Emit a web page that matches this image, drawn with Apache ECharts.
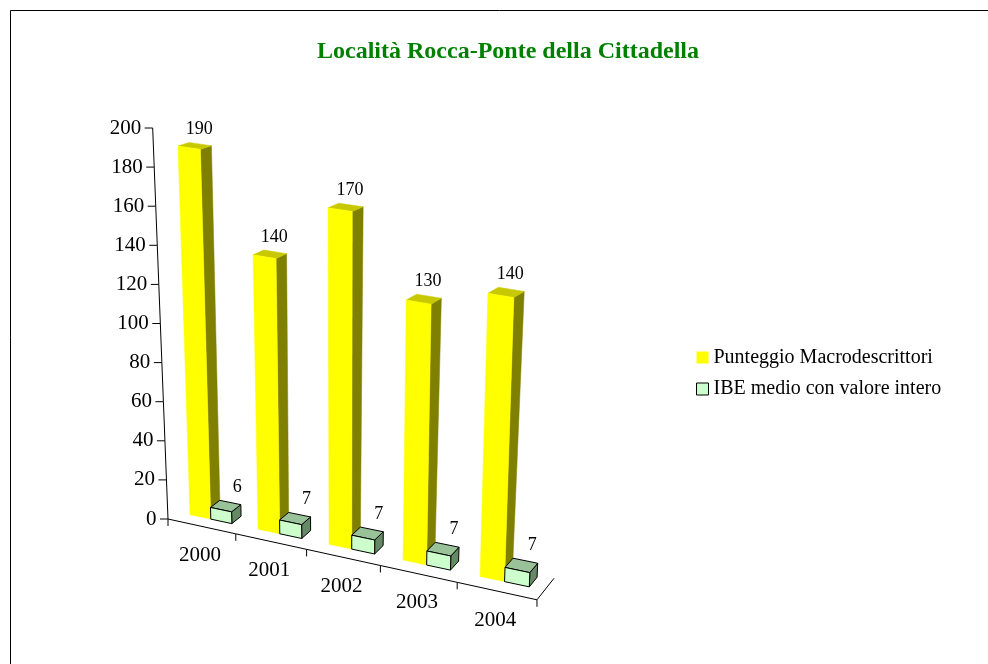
<!DOCTYPE html>
<html><head><meta charset="utf-8">
<script src="https://cdn.jsdelivr.net/npm/echarts@6/dist/echarts.min.js"></script>
<style>html,body{margin:0;padding:0;background:#fff;}#main{width:988px;height:664px;}</style>
</head><body><div id="main"></div>
<script>
const categories = ['2000', '2001', '2002', '2003', '2004'];
const macroValues = [190, 140, 170, 130, 140];
const ibeValues = [6, 7, 7, 7, 7];
const yTicks = [0, 20, 40, 60, 80, 100, 120, 140, 160, 180, 200];
const seriesNames = ['Punteggio Macrodescrittori', 'IBE medio con valore intero'];
const titleText = 'Località Rocca-Ponte della Cittadella';

const FONT = '"Liberation Serif","Times New Roman",serif';

// pseudo-perspective warp parameters (style only)
const P = {
  curve: 0.000341, slope: 0.219, hGrow: 0.00015,
  lean: 0.000194, leanRef: 202, span: 370, hRef: 371,
  dLF: [21, -15.5], dLT: [24.4, -7.8], dRF: [17, -21.5], dRT: [25.2, -11.7],
  zFront: 0.45, zBack: 0.9
};

function makeWarp(api) {
  const band = api.size([1, 0])[0];
  const c0 = api.coord([0, 0]);
  const ox = c0[0] - band / 2, oy = c0[1];
  const W = function (u, h, z) {
    const d = u - ox;
    const sx0 = d + P.curve * d * d;
    const t = Math.max(0, Math.min(1, sx0 / P.span));
    const hh = h / P.hRef;
    const dx = (1 - t) * (P.dLF[0] + (P.dLT[0] - P.dLF[0]) * hh) + t * (P.dRF[0] + (P.dRT[0] - P.dRF[0]) * hh);
    const dy = (1 - t) * (P.dLF[1] + (P.dLT[1] - P.dLF[1]) * hh) + t * (P.dRF[1] + (P.dRT[1] - P.dRF[1]) * hh);
    const hs = h * (1 + P.hGrow * sx0);
    return [ox + sx0 + P.lean * (sx0 - P.leanRef) * h + z * dx,
            oy + P.slope * sx0 - hs + z * dy];
  };
  W.ox = ox; W.oy = oy; W.band = band;
  return W;
}

function poly(pts, fill, stroke) {
  return { type: 'polygon', shape: { points: pts },
    style: { fill: fill, stroke: stroke || fill, lineWidth: stroke ? 1 : 0.5 } };
}

function barRender(kind) {
  return function (params, api) {
    const W = makeWarp(api);
    const i = api.value(0), v = api.value(1);
    const c = api.coord([i, 0]);
    const h = c[1] - api.coord([i, v])[1];
    const bw = W.band * 0.31;
    const u1 = kind === 0 ? c[0] - bw : c[0];
    const u2 = u1 + bw;
    const zf = P.zFront, zb = P.zBack;
    const fbl = W(u1, 0, zf), fbr = W(u2, 0, zf), ftr = W(u2, h, zf), ftl = W(u1, h, zf);
    const bbr = W(u2, 0, zb), btr = W(u2, h, zb), btl = W(u1, h, zb);
    const col = kind === 0
      ? { front: '#FFFF00', top: '#C8C800', side: '#808000', stroke: null }
      : { front: '#CCFFCC', top: '#99C299', side: '#668A66', stroke: '#000' };
    const off = kind === 0 ? [-1, -15] : [7, -15];
    const lx = (btl[0] + btr[0]) / 2 + off[0], ly = (btl[1] + btr[1]) / 2 + off[1];
    return { type: 'group', children: [
      poly([fbr, bbr, btr, ftr], col.side, col.stroke),
      poly([ftl, ftr, btr, btl], col.top, col.stroke),
      poly([fbl, fbr, ftr, ftl], col.front, col.stroke),
      { type: 'text', x: lx, y: ly, style: { text: String(v), fill: '#000', font: '18px ' + FONT, align: 'center', verticalAlign: 'middle' } }
    ] };
  };
}

function yAxisRender(params, api) {
  const W = makeWarp(api);
  const idx = params.dataIndex;
  const v = api.value(1);
  const h = W.oy - api.coord([0, v])[1];
  const p = W(W.ox, h, 0);
  const ch = [
    { type: 'line', shape: { x1: p[0] - 8, y1: p[1], x2: p[0], y2: p[1] }, style: { stroke: '#000', lineWidth: 1 } },
    { type: 'text', x: p[0] - 11.5, y: p[1], style: { text: String(v), fill: '#000', font: '21px ' + FONT, align: 'right', verticalAlign: 'middle' } }
  ];
  if (idx < yTicks.length - 1) {
    const h2 = W.oy - api.coord([0, yTicks[idx + 1]])[1];
    const q = W(W.ox, h2, 0);
    ch.push({ type: 'line', shape: { x1: p[0], y1: p[1], x2: q[0], y2: q[1] }, style: { stroke: '#000', lineWidth: 1 } });
  }
  return { type: 'group', children: ch };
}

function xAxisRender(params, api) {
  const W = makeWarp(api);
  const i = api.value(0);
  const a = W(W.ox + W.band * i, 0, 0);
  const b = W(W.ox + W.band * (i + 1), 0, 0);
  const m = W(W.ox + W.band * (i + 0.5), 0, 0);
  const ls = { stroke: '#000', lineWidth: 1 };
  const ch = [
    { type: 'line', shape: { x1: a[0], y1: a[1], x2: b[0], y2: b[1] }, style: ls },
    { type: 'line', shape: { x1: a[0], y1: a[1], x2: a[0], y2: a[1] + 7 }, style: ls },
    { type: 'text', x: m[0] - 1.5, y: m[1] + 29, style: { text: categories[i], fill: '#000', font: '21px ' + FONT, align: 'center', verticalAlign: 'middle' } }
  ];
  if (i === categories.length - 1) {
    const e = W(W.ox + W.band * (i + 1), 0, 1);
    ch.push({ type: 'line', shape: { x1: b[0], y1: b[1], x2: b[0], y2: b[1] + 7 }, style: ls });
    ch.push({ type: 'line', shape: { x1: b[0], y1: b[1], x2: e[0], y2: e[1] }, style: ls });
  }
  return { type: 'group', children: ch };
}

const chart = echarts.init(document.getElementById('main'), null, { renderer: 'canvas' });
chart.setOption({
  animation: false,
  backgroundColor: '#fff',
  title: { text: titleText, left: 508, top: 40, textAlign: 'center', padding: 0,
    textStyle: { fontFamily: FONT, fontWeight: 'bold', fontSize: 24, color: '#008000' } },
  legend: {
    orient: 'vertical', left: 696, top: 347.5, padding: 0, itemGap: 11.5,
    itemWidth: 12, itemHeight: 12, icon: 'rect',
    textStyle: { fontFamily: FONT, fontSize: 20, lineHeight: 20, color: '#000' },
    data: [
      { name: seriesNames[0], itemStyle: { color: '#FFFF00', borderWidth: 0 } },
      { name: seriesNames[1], itemStyle: { color: '#CCFFCC', borderColor: '#000', borderWidth: 1 } }
    ]
  },
  grid: { left: 168, width: 331.5, top: 128, height: 391 },
  xAxis: { type: 'category', data: categories, show: false },
  yAxis: { type: 'value', min: 0, max: 200, interval: 20, show: false },
  graphic: [{ type: 'rect', shape: { x: 10.5, y: 10.5, width: 1000, height: 700 }, style: { fill: 'none', stroke: '#000', lineWidth: 1 }, silent: true }],
  series: [
    { type: 'custom', name: 'yaxis', renderItem: yAxisRender, data: yTicks.map(v => [0, v]), silent: true },
    { type: 'custom', name: 'xaxis', renderItem: xAxisRender, data: categories.map((c, i) => [i, 0]), silent: true },
    { type: 'custom', name: seriesNames[0], renderItem: barRender(0), data: macroValues.map((v, i) => [i, v]), itemStyle: { color: '#FFFF00' } },
    { type: 'custom', name: seriesNames[1], renderItem: barRender(1), data: ibeValues.map((v, i) => [i, v]), itemStyle: { color: '#CCFFCC' } }
  ]
});
</script></body></html>
